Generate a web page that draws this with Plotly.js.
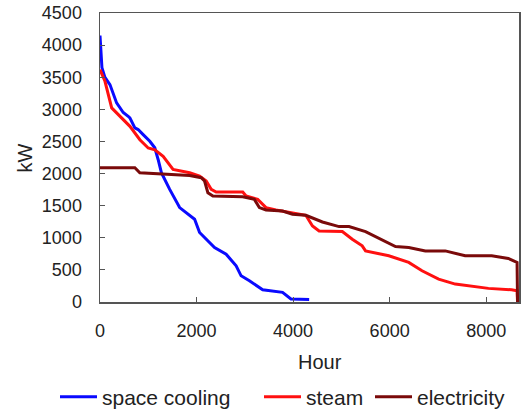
<!DOCTYPE html>
<html>
<head>
<meta charset="utf-8">
<script src="https://cdn.plot.ly/plotly-3.0.1.min.js"></script>
<style>html,body{margin:0;padding:0;background:#fff;}#chart{width:524px;height:412px;}</style>
</head>
<body>
<div id="chart"></div>
<script>
// Hours and kW values (load duration curves)
const coolingHours = [0, 20, 40, 100, 206, 344, 413, 481, 584, 619, 722, 790, 894, 1032, 1135, 1170, 1204, 1272, 1444, 1650, 1960, 2063, 2373, 2613, 2820, 2923, 3095, 3370, 3782, 3955, 4333];
const coolingKW    = [4150, 3900, 3650, 3500, 3385, 3100, 3030, 2950, 2892, 2866, 2711, 2685, 2607, 2503, 2401, 2323, 2219, 2013, 1754, 1470, 1288, 1082, 849, 745, 563, 408, 331, 191, 150, 47, 40];

const steamHours = [0, 103, 242, 413, 620, 826, 998, 1136, 1308, 1513, 1857, 2063, 2201, 2304, 2407, 2957, 3026, 3267, 3439, 3645, 4264, 4402, 4539, 5020, 5226, 5432, 5501, 5983, 6396, 6671, 7015, 7359, 7703, 8046, 8527, 8640, 8650];
const steamKW    = [3619, 3437, 3022, 2892, 2735, 2527, 2398, 2370, 2267, 2064, 2013, 1960, 1883, 1754, 1712, 1712, 1650, 1598, 1470, 1433, 1350, 1184, 1107, 1097, 978, 874, 796, 719, 616, 486, 357, 279, 243, 212, 191, 175, 0];

const elecHours = [0, 722, 825, 1857, 2098, 2166, 2235, 2338, 2957, 3198, 3301, 3439, 3782, 3988, 4264, 4608, 4952, 5158, 5501, 5777, 6121, 6396, 6740, 7153, 7565, 8115, 8459, 8640, 8650];
const elecKW    = [2090, 2090, 2013, 1971, 1935, 1883, 1702, 1650, 1640, 1598, 1470, 1433, 1417, 1366, 1350, 1246, 1174, 1174, 1097, 988, 864, 849, 796, 796, 719, 719, 678, 616, 0];

const seriesNames = ["space cooling", "steam", "electricity"];
const xTicks = [0, 2000, 4000, 6000, 8000];
const yTicks = [0, 500, 1000, 1500, 2000, 2500, 3000, 3500, 4000, 4500];

const traces = [
  {x: coolingHours, y: coolingKW, name: seriesNames[0], mode: "lines", line: {color: "#0a0aff", width: 3}, legend: "legend"},
  {x: steamHours, y: steamKW, name: seriesNames[1], mode: "lines", line: {color: "#ff1010", width: 3}, legend: "legend2"},
  {x: elecHours, y: elecKW, name: seriesNames[2], mode: "lines", line: {color: "#7a0a0a", width: 3}, legend: "legend3"}
];

const axisCommon = {
  showline: true, mirror: true, linecolor: "#555", linewidth: 1.5,
  ticks: "inside", ticklen: 5, tickcolor: "#555", tickwidth: 1,
  showgrid: false, zeroline: false, automargin: false,
  tickfont: {family: "Liberation Sans, Arial, sans-serif", size: 18, color: "#222"}
};

function legendAt(xpx) {
  return {orientation: "h", xref: "container", yref: "container", x: xpx / 524, xanchor: "left",
          y: 0.036, yanchor: "middle", font: {size: 21, color: "#222"}, itemwidth: 37,
          bgcolor: "rgba(0,0,0,0)", borderwidth: 0};
}

const layout = {
  width: 524, height: 412,
  margin: {l: 100, r: 5, t: 13, b: 110},
  paper_bgcolor: "#fff", plot_bgcolor: "#fff",
  font: {family: "Liberation Sans, Arial, sans-serif", color: "#222"},
  xaxis: Object.assign({}, axisCommon, {range: [0, 8680], tickvals: xTicks, ticktext: xTicks.map(String), ticklabelstandoff: 12}),
  yaxis: Object.assign({}, axisCommon, {range: [0, 4500], tickvals: yTicks, ticktext: yTicks.map(String), ticklabelstandoff: 13}),
  showlegend: true,
  legend: legendAt(55),
  legend2: legendAt(259),
  legend3: legendAt(370),
  annotations: [
    {text: "Hour", xref: "paper", yref: "paper", x: 0.525, y: -0.207, showarrow: false,
     xanchor: "center", yanchor: "middle", font: {size: 20, color: "#222"}},
    {text: "kW", xref: "paper", yref: "paper", x: -0.179, y: 0.5, showarrow: false, textangle: -90,
     xanchor: "center", yanchor: "middle", font: {size: 20, color: "#222"}}
  ]
};

Plotly.newPlot("chart", traces, layout, {displayModeBar: false, staticPlot: true});
</script>
</body>
</html>
